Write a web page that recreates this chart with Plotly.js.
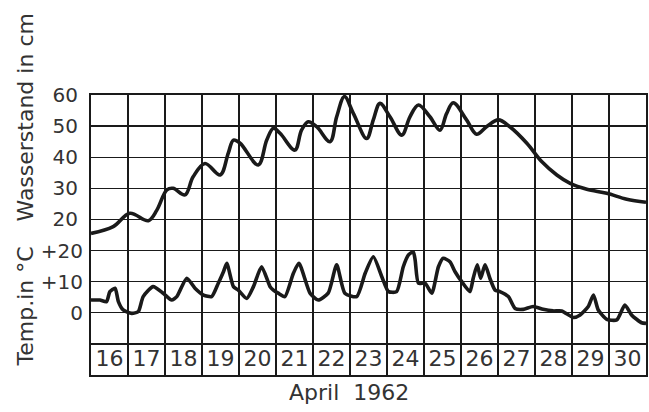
<!DOCTYPE html>
<html><head><meta charset="utf-8">
<script src="https://cdn.plot.ly/plotly-3.0.1.min.js"></script>
<style>html,body{margin:0;padding:0;background:#fff}#chart{width:649px;height:412px}</style>
</head><body><div id="chart"></div>
<script>
// Water level (cm), x = day of April 1962 (fractional)
const waterDays = [16.0,16.6,17.05,17.55,17.78,18.05,18.22,18.54,18.76,19.08,19.49,19.71,19.85,20.03,20.52,20.75,20.93,21.11,21.51,21.69,21.87,22.1,22.46,22.64,22.85,23.09,23.45,23.63,23.81,24.08,24.4,24.62,24.85,25.16,25.43,25.61,25.79,26.15,26.42,26.69,27.01,27.32,27.78,28.18,28.59,28.95,29.4,29.94,30.48,31.0];
const waterLevel = [15.5,17.7,22,19.6,23,29.5,30,27.9,33.7,38,34.3,41.3,45.5,44.5,37.5,45.5,49.3,47.7,42.3,48.7,51.4,49.8,45,53,59.5,54.1,46,52,57.3,53,47.1,53,56.8,53,48.7,54,57.5,52,47.4,49.8,52,49.8,44.5,38.6,34.3,31.6,29.7,28.4,26.5,25.5];
// Temperature (°C)
const tempDays = [16.0,16.24,16.42,16.51,16.65,16.74,16.87,17.1,17.28,17.41,17.68,17.95,18.18,18.32,18.41,18.59,18.81,19.04,19.26,19.44,19.58,19.67,19.85,19.98,20.21,20.39,20.61,20.84,20.93,21.06,21.24,21.47,21.62,21.92,22.14,22.41,22.64,22.86,23.18,23.41,23.63,23.86,24.04,24.26,24.44,24.58,24.71,24.76,24.85,25.03,25.21,25.39,25.52,25.7,25.84,26.02,26.24,26.33,26.44,26.53,26.65,26.78,26.92,27.05,27.28,27.46,27.68,27.95,28.22,28.49,28.72,29.04,29.22,29.44,29.58,29.71,29.94,30.21,30.43,30.61,30.88,31.0];
const tempValues = [4.1,4.1,3.6,6.8,7.9,3.6,0.9,-0.2,0.4,5.2,8.4,6.3,4.1,5.2,7.3,11.1,7.9,5.7,5.2,9.5,13.2,15.9,8.4,7.3,4.6,8.4,14.8,8.4,7.3,6.3,5.2,12.7,15.9,6.3,4.1,6.3,15.4,6.3,5.2,12.7,18.0,11.6,6.8,6.8,14.8,18.6,19.6,17,9.5,9.5,6.3,14.8,17.5,16.4,13.2,10.0,6.8,11.1,15.4,11.1,15.4,11.1,7.3,6.8,5.2,1.4,1.1,2.0,1.1,0.6,0.6,-1.5,-0.7,2.0,5.7,0.9,-2.1,-2.3,2.5,-0.7,-3.2,-3.4];
// Date labels
const dateLabels = [16,17,18,19,20,21,22,23,24,25,26,27,28,29,30];
const waterTicks = [20,30,40,50,60];
const tempTicks = [0,10,20];
const tempTickText = ["0","+10","+20"];

const FONT = "DejaVu Sans, sans-serif";
const INK = "#1a1a1a";
const TXT = "#333";

const traces = [
  {x: waterDays, y: waterLevel, type: "scatter", mode: "lines",
   line: {color: INK, width: 3.6, shape: "spline", smoothing: 1}, hoverinfo: "skip", yaxis: "y"},
  {x: tempDays, y: tempValues, type: "scatter", mode: "lines",
   line: {color: INK, width: 3.6, shape: "spline", smoothing: 0.6}, hoverinfo: "skip", yaxis: "y2"},
  {x: dateLabels.map(d => d + 0.5), y: dateLabels.map(() => -25.3), type: "scatter", mode: "text",
   text: dateLabels.map(String), textfont: {family: FONT, size: 22, color: TXT},
   textposition: "middle center", hoverinfo: "skip", yaxis: "y"}
];

const gridVals = [-20,-10,0,10,20,30,40,50,60];
const layout = {
  width: 649, height: 412,
  margin: {l: 91, r: 3, t: 95, b: 37},
  paper_bgcolor: "#fff", plot_bgcolor: "#fff",
  showlegend: false,
  font: {family: FONT, color: TXT},
  xaxis: {range: [16, 31], dtick: 1, tick0: 16, showticklabels: false, ticks: "",
          showgrid: true, gridcolor: INK, gridwidth: 1.3, zeroline: false,
          showline: true, linecolor: INK, linewidth: 2, mirror: true, fixedrange: true},
  yaxis: {range: [-30, 60], tickmode: "array", tickvals: gridVals,
          ticktext: gridVals.map(v => waterTicks.includes(v) ? String(v) : ""),
          ticks: "", ticklabelstandoff: 7, tickfont: {family: FONT, size: 20, color: TXT},
          showgrid: true, gridcolor: INK, gridwidth: 1.3, zeroline: false,
          showline: true, linecolor: INK, linewidth: 2, mirror: true, fixedrange: true},
  yaxis2: {range: [-20, 70], overlaying: "y", side: "left", tickmode: "array",
           tickvals: tempTicks, ticktext: tempTickText, ticks: "", ticklabelstandoff: 7,
           tickfont: {family: FONT, size: 20, color: TXT},
           showgrid: false, zeroline: false, showline: false, fixedrange: true},
  annotations: [
    {text: "Wasserstand in cm", xref: "paper", yref: "paper", x: -0.118, y: 0.918,
     xanchor: "center", yanchor: "middle", textangle: -90, showarrow: false,
     font: {family: FONT, size: 22, color: TXT}},
    {text: "Temp.in °C", xref: "paper", yref: "paper", x: -0.118, y: 0.243,
     xanchor: "center", yanchor: "middle", textangle: -90, showarrow: false,
     font: {family: FONT, size: 22, color: TXT}},
    {text: "April  1962", xref: "paper", yref: "paper", x: 0.465, y: -0.062,
     xanchor: "center", yanchor: "middle", showarrow: false,
     font: {family: FONT, size: 22, color: TXT}}
  ]
};
Plotly.newPlot("chart", traces, layout, {displayModeBar: false, staticPlot: true});
</script></body></html>
